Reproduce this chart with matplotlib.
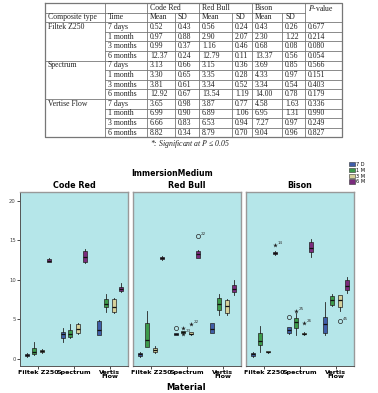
import numpy as np
import matplotlib
matplotlib.use('Agg')
import matplotlib.pyplot as plt
from matplotlib.patches import Patch

plt.rcParams['mathtext.fontset'] = 'stix'

# ---------------- table data ----------------
composites = ['Filtek Z250', 'Spectrum', 'Vertise Flow']
periods = ['7 days', '1 month', '3 months', '6 months']
code_red_mean = ['0.52', '0.97', '0.99', '12.37', '3.13', '3.30', '3.81', '12.92', '3.65', '6.99', '6.66', '8.82']
code_red_sd = ['0.43', '0.88', '0.37', '0.24', '0.66', '0.65', '0.61', '0.67', '0.98', '0.90', '0.83', '0.34']
red_bull_mean = ['0.56', '2.90', '1.16', '12.79', '3.15', '3.35', '3.34', '13.54', '3.87', '6.89', '6.53', '8.79']
red_bull_sd = ['0.24', '2.07', '0.46', '0.11', '0.36', '0.28', '0.52', '1.19', '0.77', '1.06', '0.94', '0.70']
bison_mean = ['0.43', '2.30', '0.68', '13.37', '3.69', '4.33', '3.34', '14.00', '4.58', '6.95', '7.27', '9.04']
bison_sd = ['0.26', '1.22', '0.08', '0.56', '0.85', '0.97', '0.54', '0.78', '1.63', '1.31', '0.97', '0.96']
p_values = ['0.677', '0.214', '0.080', '0.054', '0.566', '0.151', '0.403', '0.179', '0.336', '0.990', '0.249', '0.827']

# ---------------- boxplot data (whislo, q1, med, q3, whishi) ----------------
media = ['Code Red', 'Red Bull', 'Bison']
materials = ['Filtek Z250', 'Spectrum', 'Vertis\nFlow']
times = ['7 D', '1 M', '3 M', '6 M']
time_colors = ['#3f5ea8', '#3c9a4a', '#d5d09a', '#7b2b7d']

code_red_box = [
    [(0.3, 0.4, 0.5, 0.6, 0.7), (0.5, 0.6, 0.9, 1.4, 2.1), (0.7, 0.85, 1.0, 1.15, 1.3), (12.2, 12.3, 12.4, 12.6, 12.7)],
    [(2.1, 2.6, 3.1, 3.4, 3.9), (2.6, 2.8, 3.2, 3.7, 4.4), (3.2, 3.3, 3.8, 4.4, 4.5), (12.1, 12.3, 12.9, 13.6, 13.9)],
    [(3.0, 3.0, 3.6, 4.8, 4.9), (5.9, 6.6, 7.0, 7.6, 8.2), (5.8, 5.9, 6.6, 7.6, 7.7), (8.5, 8.6, 8.8, 9.1, 9.6)],
]
red_bull_box = [
    [(0.3, 0.4, 0.6, 0.8, 0.9), (1.5, 1.5, 2.4, 4.6, 6.1), (0.8, 0.9, 1.1, 1.4, 1.6), (12.5, 12.6, 12.8, 12.9, 13.0)],
    [(3.0, 3.0, 3.1, 3.3, 3.3), (3.2, 3.3, 3.4, 3.5, 3.5), (3.0, 3.1, 3.2, 3.4, 3.4), (12.7, 12.8, 13.2, 13.7, 13.8)],
    [(3.3, 3.3, 3.8, 4.5, 4.6), (5.6, 6.2, 6.9, 7.7, 8.2), (5.6, 5.8, 6.7, 7.5, 7.6), (8.1, 8.4, 8.8, 9.4, 10.0)],
]
bison_box = [
    [(0.3, 0.4, 0.6, 0.8, 0.9), (0.9, 1.8, 2.3, 3.3, 4.1), (0.8, 0.85, 0.9, 0.95, 1.0), (13.1, 13.2, 13.4, 13.5, 13.6)],
    [(3.2, 3.3, 3.6, 4.0, 4.0), (3.0, 3.9, 4.7, 5.2, 5.8), (3.0, 3.1, 3.2, 3.3, 3.4), (12.9, 13.5, 14.0, 14.8, 15.1)],
    [(3.0, 3.3, 4.4, 5.3, 7.2), (6.7, 6.8, 7.5, 8.0, 8.2), (6.1, 6.6, 7.4, 8.1, 8.1), (8.3, 8.7, 9.2, 10.0, 10.3)],
]
box_data = [code_red_box, red_bull_box, bison_box]

# outliers: panel, material, time, value, marker, label
out_panel = [1, 1, 1, 1, 1, 2, 2, 2, 2, 2]
out_group = [1, 1, 1, 1, 1, 0, 1, 1, 1, 2]
out_time = [0, 1, 1, 2, 3, 3, 0, 1, 2, 2]
out_value = [3.9, 3.9, 3.2, 4.4, 15.5, 14.4, 5.3, 6.0, 4.5, 4.8]
out_marker = ['o', '*', '*', '*', 'o', '*', 'o', '*', '*', 'o']
out_label = ['', '', '23', '22', '22', '14', '', '25', '26', '45']

W, H = 378, 393
fig = plt.figure(figsize=(W / 100, H / 100), dpi=100)

# ---------------- table (drawn in pixel coords) ----------------
tab = fig.add_axes([0, 0, 1, 1])
tab.set_xlim(0, W)
tab.set_ylim(H, 0)
tab.axis('off')

col_x = [45, 105, 147, 175, 199, 232, 252, 282, 305, 342]
top, rh = 3.0, 9.6
row_y = [top + i * rh for i in range(15)]
lc = '#777777'
tfont = dict(family='Liberation Serif', fontsize=5.6, va='center', color='#222222')

# outer border
tab.plot([col_x[0], col_x[-1], col_x[-1], col_x[0], col_x[0]],
         [row_y[0], row_y[0], row_y[-1], row_y[-1], row_y[0]], color=lc, lw=0.9)
# horizontal rules
tab.plot([col_x[0], col_x[-2]], [row_y[1], row_y[1]], color=lc, lw=0.6)
tab.plot([col_x[0], col_x[-1]], [row_y[2], row_y[2]], color=lc, lw=0.6)
for i in range(3, 14):
    x0 = col_x[0] if (i - 2) % 4 == 0 else col_x[1]
    tab.plot([x0, col_x[-1]], [row_y[i], row_y[i]], color=lc, lw=0.6)
# vertical rules
for j, cx in enumerate(col_x[1:-1], start=1):
    y0 = row_y[1] if j in (3, 5, 7) else row_y[0]
    tab.plot([cx, cx], [y0, row_y[-1]], color=lc, lw=0.6)

ymid = lambda i: (row_y[i] + row_y[i + 1]) / 2
tab.text(col_x[2] + 3, ymid(0), 'Code Red', **tfont)
tab.text(col_x[4] + 3, ymid(0), 'Red Bull', **tfont)
tab.text(col_x[6] + 3, ymid(0), 'Bison', **tfont)
tab.text(col_x[8] + 3, ymid(0), '$P$-value', **tfont)
tab.text(col_x[0] + 3, ymid(1), 'Composite type', **tfont)
tab.text(col_x[1] + 3, ymid(1), 'Time', **tfont)
for k in range(3):
    tab.text(col_x[2 + 2 * k] + 3, ymid(1), 'Mean', **tfont)
    tab.text(col_x[3 + 2 * k] + 3, ymid(1), 'SD', **tfont)
for g, name in enumerate(composites):
    tab.text(col_x[0] + 3, ymid(2 + 4 * g), name, **tfont)
cols = [code_red_mean, code_red_sd, red_bull_mean, red_bull_sd, bison_mean, bison_sd, p_values]
for r in range(12):
    tab.text(col_x[1] + 3, ymid(2 + r), periods[r % 4], **tfont)
    for c, vals in enumerate(cols):
        tab.text(col_x[2 + c] + 3, ymid(2 + r), vals[r], **tfont)
tab.text(190, 144, '*: Significant at $P$ ≤ 0.05', ha='center', va='center',
         family='Liberation Serif', fontsize=5.6, style='italic', color='#222222')

# ---------------- boxplot panels ----------------
bg = '#b5e6e9'
offsets = [-0.3, -0.1, 0.1, 0.3]
panel_left = [20, 133, 246]
pw, pb, pt = 108, 366, 192
for p, medium in enumerate(media):
    ax = fig.add_axes([panel_left[p] / W, (H - pb) / H, pw / W, (pb - pt) / H])
    ax.set_facecolor(bg)
    for g in range(3):
        for t in range(4):
            lo, q1, med, q3, hi = box_data[p][g][t]
            st = dict(whislo=lo, q1=q1, med=med, q3=q3, whishi=hi, fliers=[])
            b = ax.bxp([st], positions=[g + 1 + offsets[t]], widths=0.11,
                       patch_artist=True, showfliers=False, showcaps=False,
                       boxprops=dict(lw=0.5, edgecolor='#222222'),
                       whiskerprops=dict(lw=0.6, color='#222222'),
                       medianprops=dict(lw=0.9, color='#111111'))
            b['boxes'][0].set_facecolor(time_colors[t])
    for i in range(len(out_panel)):
        if out_panel[i] != p:
            continue
        x = out_group[i] + 1 + offsets[out_time[i]]
        if out_marker[i] == 'o':
            ax.plot(x, out_value[i], 'o', ms=3, mfc='none', mec='#222222', mew=0.5)
        else:
            ax.plot(x, out_value[i], '*', ms=3.5, color='#222222', mew=0)
        if out_label[i]:
            ax.annotate(out_label[i], (x, out_value[i]), xytext=(2, 1),
                        textcoords='offset points', fontsize=3, color='#333333')
    ax.set_xlim(0.5, 3.5)
    ax.set_ylim(-0.9, 21.1)
    ax.set_xticks([1, 2, 3])
    ax.set_xticklabels(materials, fontsize=4.6, fontweight='bold', linespacing=0.8)
    ax.tick_params(axis='x', length=2, width=0.5, pad=1)
    ax.set_title(medium, fontsize=5.8, fontweight='bold', pad=3)
    for s in ['top', 'right']:
        ax.spines[s].set_color('#999999')
        ax.spines[s].set_linewidth(1.0)
    ax.spines['bottom'].set_color('#555555')
    ax.spines['bottom'].set_linewidth(0.7)
    if p == 0:
        ax.set_yticks([0, 5, 10, 15, 20])
        ax.tick_params(axis='y', labelsize=3.8, length=2, width=0.5, pad=1, labelcolor='#444444')
        ax.spines['left'].set_color('#555555')
        ax.spines['left'].set_linewidth(0.7)
    else:
        ax.set_yticks([])
        ax.spines['left'].set_color('#999999')
        ax.spines['left'].set_linewidth(1.0)

fig.text(172 / W, 1 - 173 / H, 'ImmersionMedium', ha='center', va='center',
         fontsize=5.6, fontweight='bold')
fig.text(186 / W, 1 - 388 / H, 'Material', ha='center', va='center',
         fontsize=6, fontweight='bold')

handles = [Patch(facecolor=c, edgecolor='#333333', lw=0.4) for c in time_colors]
fig.legend(handles, times, loc='upper left', bbox_to_anchor=(349 / W, 1 - 162 / H),
           frameon=False, fontsize=3.6, handlelength=1.1, handleheight=0.9,
           handletextpad=0.3, labelspacing=0.15, borderpad=0, borderaxespad=0)

fig.savefig('out.png', dpi=100)
